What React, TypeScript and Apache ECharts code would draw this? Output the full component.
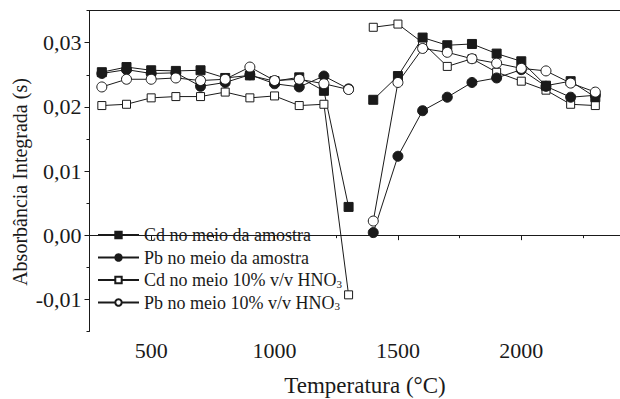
import React, { useEffect, useRef } from "react";
import * as echarts from "echarts";

const temperatures = [300, 400, 500, 600, 700, 800, 900, 1000, 1100, 1200, 1300, 1400, 1500, 1600, 1700, 1800, 1900, 2000, 2100, 2200, 2300];
const cdSample = [0.0254, 0.0262, 0.0257, 0.0256, 0.0257, 0.0245, 0.0249, 0.024, 0.0246, 0.0225, 0.0044, 0.0211, 0.0248, 0.0308, 0.0296, 0.0298, 0.0283, 0.0271, 0.0233, 0.024, 0.0215];
const pbSample = [0.0252, 0.0258, 0.0252, 0.0253, 0.0232, 0.0238, 0.025, 0.0236, 0.0231, 0.0248, 0.0228, 0.0004, 0.0123, 0.0194, 0.0215, 0.0238, 0.0245, 0.0258, 0.0232, 0.0215, 0.0218];
const cdHNO3 = [0.0202, 0.0204, 0.0214, 0.0216, 0.0216, 0.0223, 0.0214, 0.0217, 0.0202, 0.0204, -0.0093, 0.0324, 0.0329, 0.03, 0.0263, 0.0275, 0.0254, 0.024, 0.0226, 0.0204, 0.0202];
const pbHNO3 = [0.0231, 0.0243, 0.0243, 0.0245, 0.0241, 0.0243, 0.0262, 0.0241, 0.0243, 0.0236, 0.0227, 0.0022, 0.0238, 0.0291, 0.0285, 0.0275, 0.0268, 0.026, 0.0256, 0.0237, 0.0223];
const breakAfter = 1300; // no measurement joins 1300 and 1400 °C
const breakAt = 1350;

const xLabelValues = [500, 1000, 1500, 2000];
const yLabelValues = [-0.01, 0, 0.01, 0.02, 0.03];

const NAME_CD_S = "Cd no meio da amostra";
const NAME_PB_S = "Pb no meio da amostra";
const NAME_CD_H = "Cd no meio 10% v/v HNO3";
const NAME_PB_H = "Pb no meio 10% v/v HNO3";

const FONT = "Liberation Serif";
const INK = "#1a1a1a";

function buildData(values: number[]) {
  const out: (number | null)[][] = [];
  temperatures.forEach((t, i) => {
    out.push([t, values[i]]);
    if (t === breakAfter) out.push([breakAt, null]);
  });
  return out;
}

export default function App() {
  const ref = useRef<HTMLDivElement>(null);
  useEffect(() => {
    if (!ref.current) return;
    const chart = echarts.init(ref.current, undefined, { renderer: "svg" });
    const lineStyle = { color: INK, width: 1 };
    const mk = (name: string, values: number[], symbol: string, filled: boolean, size: number) => ({
      name,
      type: "line",
      xAxisIndex: 0,
      yAxisIndex: 0,
      data: buildData(values),
      connectNulls: false,
      symbol,
      symbolSize: size,
      showAllSymbol: true,
      lineStyle,
      itemStyle: {
        color: filled ? INK : "#ffffff",
        borderColor: INK,
        borderWidth: 1,
      },
      emphasis: { disabled: true },
    });
    const xMin = 250;
    const xMax = 2400;
    const yMin = -0.015;
    const yMax = 0.035;
    chart.setOption({
      animation: false,
      textStyle: { fontFamily: FONT, color: INK },
      grid: { left: 89.5, top: 10.6, width: 533, height: 320.8 },
      legend: {
        orient: "vertical",
        left: 92,
        top: 221,
        itemWidth: 41,
        itemHeight: 8,
        itemGap: 4.5,
        data: [NAME_CD_S, NAME_PB_S, NAME_CD_H, NAME_PB_H],
        formatter: (n: string) => n.replace("HNO3", "HNO{s|3}"),
        textStyle: {
          fontFamily: FONT,
          fontSize: 18,
          color: INK,
          rich: { s: { fontFamily: FONT, fontSize: 11, color: INK, verticalAlign: "bottom" } },
        },
      },
      xAxis: [
        {
          type: "value",
          min: xMin,
          max: xMax,
          position: "bottom",
          axisLine: { show: true, lineStyle: { color: INK, width: 1 } },
          axisTick: { show: true, length: 5, customValues: xLabelValues, lineStyle: { color: INK } },
          axisLabel: {
            customValues: xLabelValues,
            fontFamily: FONT,
            fontSize: 22,
            color: INK,
            margin: 8,
            formatter: (v: number) => String(v),
          },
          splitLine: { show: false },
        },
        {
          type: "value",
          min: xMin,
          max: xMax,
          interval: 250,
          position: "bottom",
          axisLine: { show: false },
          axisTick: { show: true, length: 3, lineStyle: { color: INK } },
          axisLabel: { show: false },
          splitLine: { show: false },
        },
        {
          type: "value",
          min: xMin,
          max: xMax,
          position: "top",
          axisLine: { show: true, lineStyle: { color: INK, width: 1 } },
          axisTick: { show: false },
          axisLabel: { show: false },
          splitLine: { show: false },
        },
      ],
      yAxis: [
        {
          type: "value",
          min: yMin,
          max: yMax,
          position: "left",
          axisLine: { show: true, lineStyle: { color: INK, width: 1 } },
          axisTick: { show: true, length: 5, customValues: yLabelValues, lineStyle: { color: INK } },
          axisLabel: {
            customValues: yLabelValues,
            fontFamily: FONT,
            fontSize: 22,
            color: INK,
            margin: 8,
            formatter: (v: number) => (Math.abs(v) < 1e-9 ? 0 : v).toFixed(2).replace(".", ","),
          },
          splitLine: { show: false },
        },
        {
          type: "value",
          min: yMin,
          max: yMax,
          interval: 0.005,
          position: "left",
          axisLine: { show: false },
          axisTick: { show: true, length: 3, lineStyle: { color: INK } },
          axisLabel: { show: false },
          splitLine: { show: false },
        },
      ],
      graphic: [
        {
          type: "text",
          x: 365,
          y: 385,
          style: {
            text: "Temperatura (°C)",
            fontFamily: FONT,
            fontSize: 23,
            fill: INK,
            align: "center",
            verticalAlign: "middle",
          },
        },
        {
          type: "text",
          x: 20,
          y: 182,
          rotation: Math.PI / 2,
          style: {
            text: "Absorbância Integrada (s)",
            fontFamily: FONT,
            fontSize: 20,
            fill: INK,
            align: "center",
            verticalAlign: "middle",
          },
        },
      ],
      series: [
        mk(NAME_CD_H, cdHNO3, "rect", false, 8),
        mk(NAME_PB_S, pbSample, "circle", true, 10),
        mk(NAME_CD_S, cdSample, "rect", true, 9),
        mk(NAME_PB_H, pbHNO3, "circle", false, 10),
      ],
    });
    return () => chart.dispose();
  }, []);
  return (
    <div
      ref={ref}
      style={{ position: "fixed", left: 0, top: 0, width: 620, height: 399, background: "#ffffff" }}
    />
  );
}
